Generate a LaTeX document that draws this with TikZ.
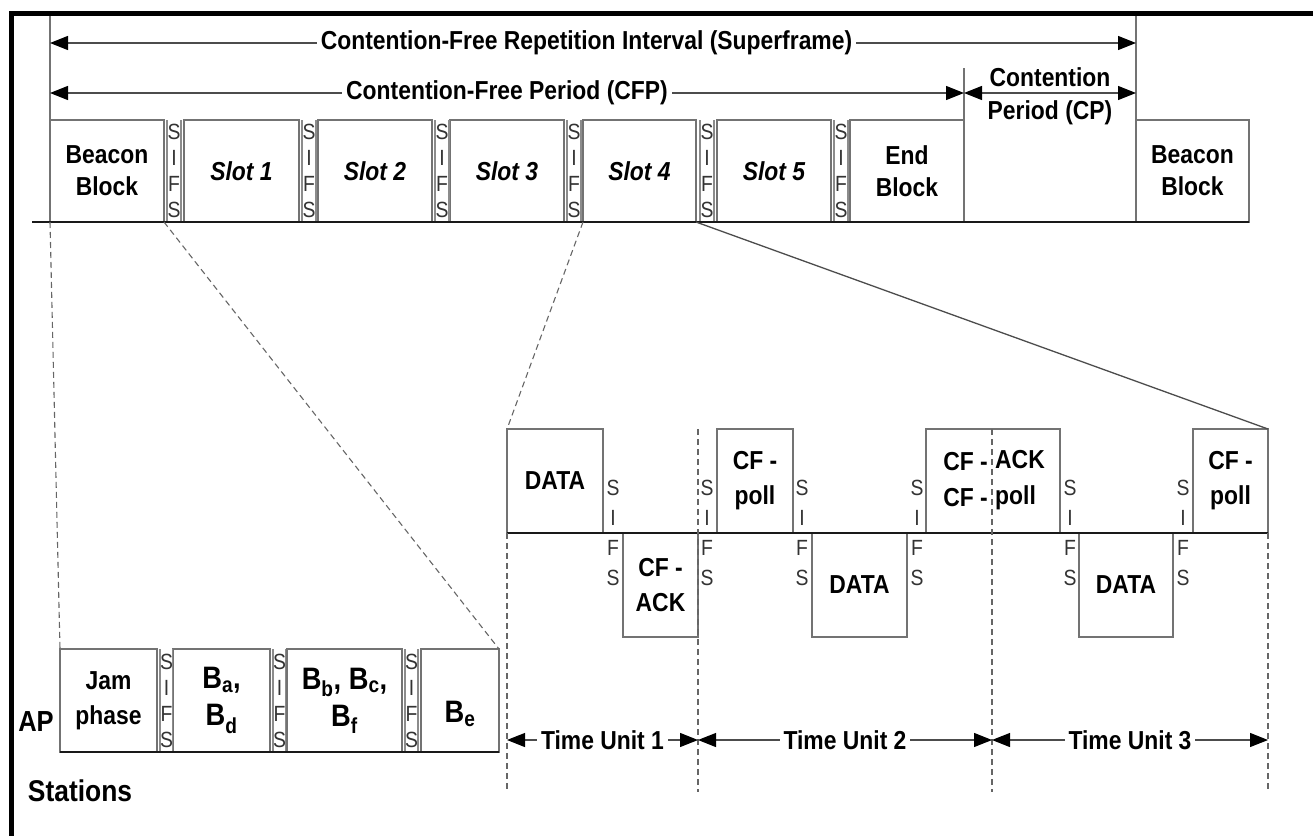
\documentclass[tikz,border=0pt]{standalone}
\usepackage{fontspec}
\setmainfont{Liberation Sans}[FakeStretch=0.88]
\usetikzlibrary{arrows.meta}
\begin{document}
\begin{tikzpicture}[x=1pt,y=-1pt,
  blk/.style={draw=black!55, line width=1.3pt, inner sep=0pt, outer sep=0pt, anchor=north west,
    align=center, font=\bfseries\fontsize{26}{32}\selectfont},
  slotbox/.style={blk, font=\bfseries\itshape\fontsize{26}{32}\selectfont},
  midbox/.style={blk, minimum height=104pt, font=\bfseries\fontsize{26}{35}\selectfont},
  bbox/.style={blk, minimum height=103pt, font=\bfseries\fontsize{31}{37}\selectfont},
  sifsT/.style={inner sep=0pt, outer sep=0pt, anchor=north west, align=center, text=black!80,
    font=\fontsize{22}{26}\selectfont},
  sifsM/.style={inner sep=0pt, outer sep=0pt, align=center, text=black!80,
    font=\fontsize{22}{30}\selectfont},
  sifsline/.style={draw=black!45, line width=1.1pt},
  base/.style={draw=black!90, line width=1.8pt},
  vline/.style={draw=black!55, line width=1.3pt},
  vdash/.style={draw=black!60, line width=1.1pt, dash pattern=on 6pt off 4pt},
  zoomdash/.style={draw=black!60, line width=1.1pt, dash pattern=on 6pt off 4pt},
  zoomsolid/.style={draw=black!70, line width=1.3pt},
  arr/.style={draw=black!70, line width=1.2pt,
    {Triangle[length=18pt,width=14pt,color=black]}-{Triangle[length=18pt,width=14pt,color=black]}},
  lbl/.style={fill=white, inner xsep=4pt, inner ysep=0pt, font=\bfseries\fontsize{26}{30}\selectfont},
  txt/.style={inner sep=0pt, font=\bfseries\fontsize{26}{32}\selectfont}
]
\useasboundingbox (0,0) rectangle (1313,836);
% frame
\draw[line width=5pt] (1313,13) -- (11,13) -- (11,836);

% ---------- top row ----------
\node[blk, minimum width=114pt, minimum height=102pt] (bcn1) at (50,120) {Beacon\\Block};
\node[sifsT, minimum width=14pt, minimum height=102pt] (s1) at (167,120) {S\\I\\F\\S};
\node[slotbox, minimum width=115pt, minimum height=102pt] (slot1) at (184,120) {Slot 1};
\node[sifsT, minimum width=14pt, minimum height=102pt] (s2) at (302,120) {S\\I\\F\\S};
\node[slotbox, minimum width=114pt, minimum height=102pt] (slot2) at (318,120) {Slot 2};
\node[sifsT, minimum width=14pt, minimum height=102pt] (s3) at (435,120) {S\\I\\F\\S};
\node[slotbox, minimum width=114pt, minimum height=102pt] (slot3) at (450,120) {Slot 3};
\node[sifsT, minimum width=14pt, minimum height=102pt] (s4) at (567,120) {S\\I\\F\\S};
\node[slotbox, minimum width=113pt, minimum height=102pt] (slot4) at (583,120) {Slot 4};
\node[sifsT, minimum width=14pt, minimum height=102pt] (s5) at (700,120) {S\\I\\F\\S};
\node[slotbox, minimum width=114pt, minimum height=102pt] (slot5) at (717,120) {Slot 5};
\node[sifsT, minimum width=14pt, minimum height=102pt] (s6) at (834,120) {S\\I\\F\\S};
\node[blk, minimum width=114pt, minimum height=102pt] (endb) at (850,120) {End\\Block};
\node[blk, minimum width=113pt, minimum height=102pt] (bcn2) at (1136,120) {Beacon\\Block};
\foreach \n in {s1,s2,s3,s4,s5,s6}
  \draw[sifsline] (\n.north west) -- (\n.south west) (\n.north east) -- (\n.south east);

% vertical delimiters
\coordinate (topL) at (50,16);
\coordinate (topR) at (1136,16);
\coordinate (cpL) at (964,68);
\draw[vline] (topL) -- (bcn1.south west);
\draw[vline] (topR) -- (bcn2.south west);
\draw[vline] (cpL) -- (endb.south east);

% baseline
\coordinate (bl0) at (32,222);
\draw[base] (bl0) -- (bcn2.south east);

% interval arrows
\coordinate (a1L) at (50,43);
\coordinate (a1R) at (1136,43);
\coordinate (a2L) at (50,93);
\coordinate (a2M) at (964,93);
\coordinate (a2R) at (1136,93);
\draw[arr] (a1L) -- (a1R) node[lbl, pos=0.494] (lsf) {Contention-Free Repetition Interval (Superframe)};
\draw[arr] (a2L) -- (a2M) node[lbl, midway] (lcfp) {Contention-Free Period (CFP)};
\draw[arr] (a2M) -- (a2R);
\node[txt] (cpA) at (1050,77) {Contention};
\node[txt] (cpB) at (1050,113) {Period (CP)};

% ---------- AP row ----------
\node[bbox, minimum width=97pt, font=\bfseries\fontsize{26}{35}\selectfont] (jam) at (60,649) {Jam\\phase};
\node[sifsT, minimum width=12pt, minimum height=103pt] (t1s) at (160,649) {S\\I\\F\\S};
\node[bbox, minimum width=97pt] (bad) at (173,649) {B\textsubscript{a},\\B\textsubscript{d}};
\node[sifsT, minimum width=12pt, minimum height=103pt] (t2s) at (273,649) {S\\I\\F\\S};
\node[bbox, minimum width=115pt] (bbcf) at (287,649) {B\textsubscript{b}, B\textsubscript{c},\\B\textsubscript{f}};
\node[sifsT, minimum width=13pt, minimum height=103pt] (t3s) at (405,649) {S\\I\\F\\S};
\node[bbox, minimum width=78pt] (be) at (421,649) {};
\node[txt, font=\bfseries\fontsize{31}{37}\selectfont] (beL) at (460,714) {B\textsubscript{e}};
\foreach \n in {t1s,t2s,t3s}
  \draw[sifsline] (\n.north west) -- (\n.south west) (\n.north east) -- (\n.south east);
\draw[base] (jam.south west) -- (be.south east);
\node[txt, font=\bfseries\fontsize{29}{32}\selectfont] (ap) at (36,722) {AP};
\node[txt, font=\bfseries\fontsize{30}{32}\selectfont] (st) at (80,791) {Stations};

% zoom lines
\draw[zoomdash] (bcn1.south west) -- (jam.north west);
\draw[zoomdash] (bcn1.south east) -- (be.north east);

% ---------- middle timeline ----------
\node[midbox, minimum width=96pt] (data1) at (507,429) {DATA};
\node[midbox, minimum width=75pt] (cfack) at (623,533) {CF -\\ACK};
\node[midbox, minimum width=76pt] (cfpoll1) at (717,429) {CF -\\poll};
\node[midbox, minimum width=95pt] (data2) at (812,533) {DATA};
\node[midbox, minimum width=134pt] (ackpoll) at (926,429) {};
\node[txt, anchor=east, align=right, font=\bfseries\fontsize{26}{36}\selectfont] (ackpollL) at (988,480) {CF -\\CF -};
\node[txt, anchor=west, align=left, font=\bfseries\fontsize{26}{36}\selectfont] (ackpollR) at (995,480) {ACK\\poll};
\node[midbox, minimum width=94pt] (data3) at (1079,533) {DATA};
\node[midbox, minimum width=75pt] (cfpoll2) at (1193,429) {CF -\\poll};

\node[sifsM] (m1) at (613,533) {S\\I\\F\\S};
\node[sifsM] (m2) at (707,533) {S\\I\\F\\S};
\node[sifsM] (m3) at (802,533) {S\\I\\F\\S};
\node[sifsM] (m4) at (917,533) {S\\I\\F\\S};
\node[sifsM] (m5) at (1070,533) {S\\I\\F\\S};
\node[sifsM] (m6) at (1183,533) {S\\I\\F\\S};

\draw[base] (data1.south west) -- (cfpoll2.south east);

\draw[zoomdash] (slot4.south west) -- (data1.north west);
\draw[zoomsolid] (slot4.south east) -- (cfpoll2.north east);

% time unit dividers
\coordinate (v1top) at (698,429);
\coordinate (v2top) at (992,429);
\coordinate (v0) at (507,792);
\coordinate (v1) at (698,792);
\coordinate (v2) at (992,792);
\coordinate (v3) at (1268,792);
\draw[vdash] (data1.south west) -- (v0);
\draw[vdash] (v1top) -- (v1);
\draw[vdash] (v2top) -- (v2);
\draw[vdash] (cfpoll2.south east) -- (v3);

\coordinate (tu0) at (507,740);
\coordinate (tu1) at (698,740);
\coordinate (tu2) at (992,740);
\coordinate (tu3) at (1268,740);
\draw[arr] (tu0) -- (tu1) node[lbl, midway] (ltu1) {Time Unit 1};
\draw[arr] (tu1) -- (tu2) node[lbl, midway] (ltu2) {Time Unit 2};
\draw[arr] (tu2) -- (tu3) node[lbl, midway] (ltu3) {Time Unit 3};
\end{tikzpicture}
\end{document}
